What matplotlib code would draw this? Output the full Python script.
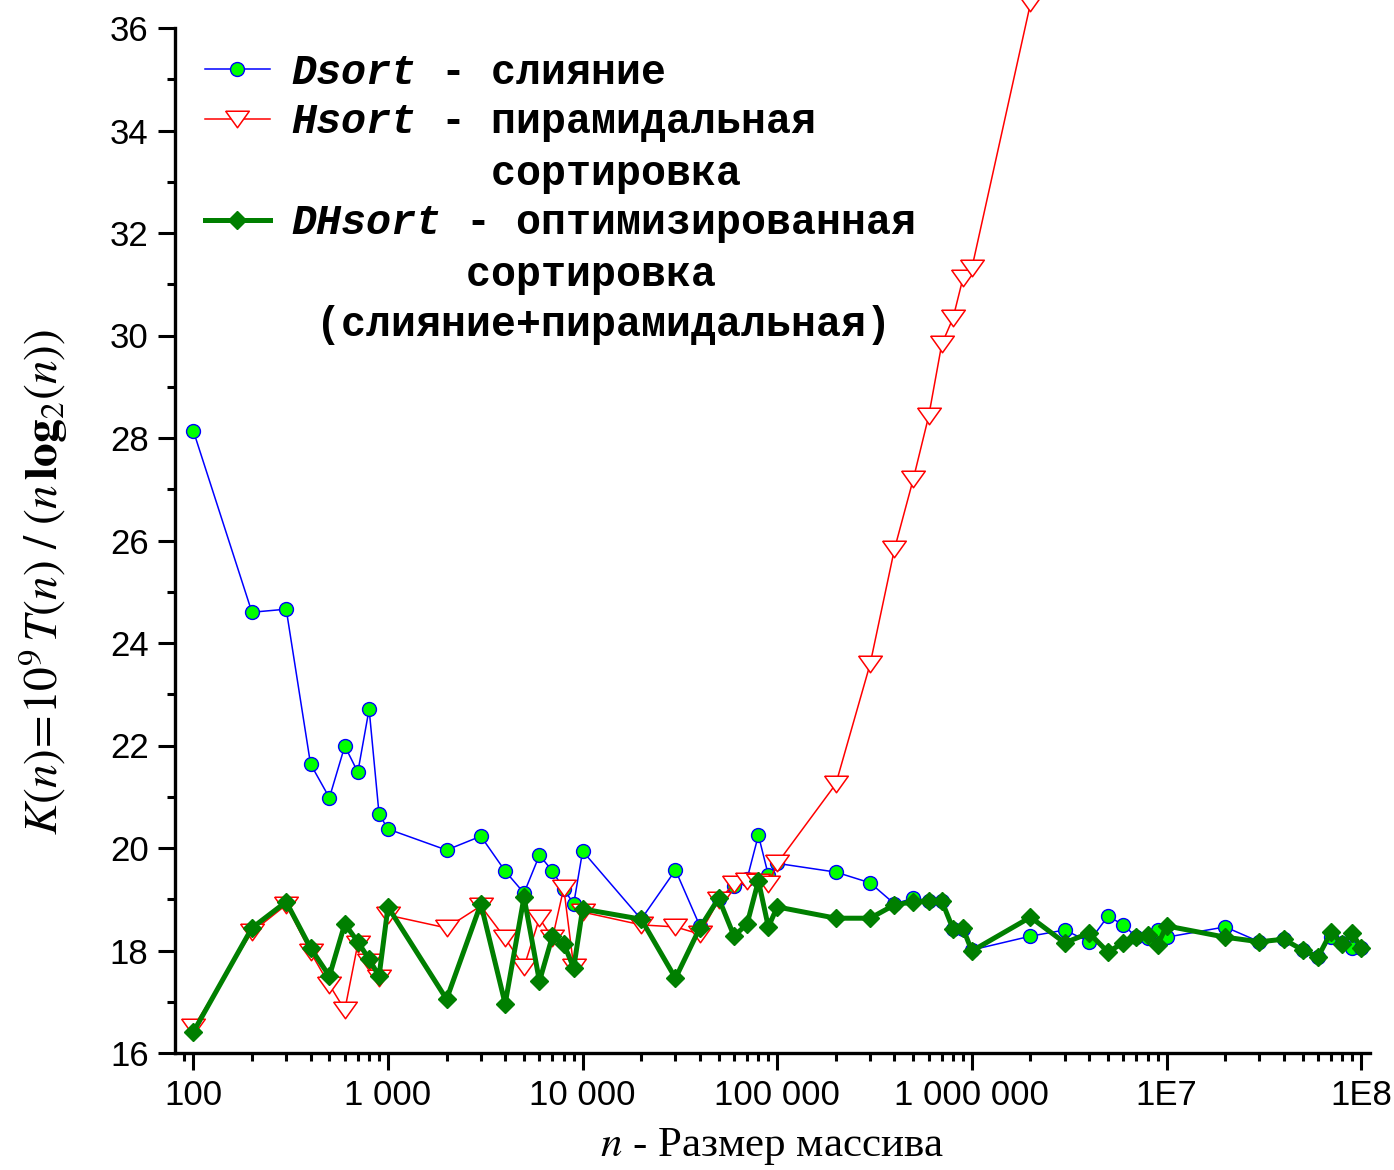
import matplotlib
matplotlib.use("Agg")
import matplotlib.pyplot as plt
from matplotlib.lines import Line2D
from matplotlib.font_manager import FontProperties
from matplotlib.ticker import FixedLocator, FixedFormatter, MultipleLocator, LogLocator, NullFormatter

plt.rcParams['mathtext.fontset'] = 'custom'
plt.rcParams['mathtext.it'] = 'Liberation Mono:italic:bold'
plt.rcParams['mathtext.rm'] = 'Liberation Mono:bold'
plt.rcParams['mathtext.bf'] = 'Liberation Mono:bold'

# размеры массивов
n_small = [100, 200, 300, 400, 500, 600, 700, 800, 900,
           1000, 2000, 3000, 4000, 5000, 6000, 7000, 8000, 9000,
           10000, 20000, 30000, 40000, 50000, 60000, 70000, 80000, 90000,
           100000, 200000, 300000, 400000, 500000, 600000, 700000, 800000, 900000,
           1000000]
n_big = [2000000, 3000000, 4000000, 5000000, 6000000, 7000000, 8000000, 9000000,
         10000000, 20000000, 30000000, 40000000, 50000000, 60000000, 70000000,
         80000000, 90000000, 100000000]
n_all = n_small + n_big
n_hsort = n_small + [2000000]

dsort = [28.14, 24.60, 24.66, 21.64, 20.98, 21.99, 21.48, 22.71, 20.66,
         20.37, 19.96, 20.23, 19.55, 19.12, 19.86, 19.55, 19.20, 18.91,
         19.94, 18.61, 19.57, 18.48, 19.00, 19.25, 19.40, 20.25, 19.47,
         19.70, 19.53, 19.32, 18.91, 19.02, 18.97, 18.97, 18.42, 18.42,
         18.01,
         18.28, 18.40, 18.17, 18.67, 18.50, 18.26, 18.24, 18.40,
         18.26, 18.46, 18.17, 18.22, 18.01, 17.88, 18.26,
         18.15, 18.05, 18.05]

hsort = [16.50, 18.36, 18.89, 17.97, 17.33, 16.84, 18.13, 17.78, 17.46,
         18.69, 18.44, 18.87, 18.24, 17.68, 18.63, 18.24, 19.22, 17.68,
         18.75, 18.50, 18.46, 18.32, 18.98, 19.30, 19.36, 19.33, 19.30,
         19.70, 21.25, 23.59, 25.83, 27.20, 28.43, 29.83, 30.34, 31.12,
         31.32,
         36.48]

dhsort = [16.41, 18.44, 18.95, 18.05, 17.50, 18.52, 18.17, 17.83, 17.50,
          18.85, 17.05, 18.91, 16.96, 19.04, 17.40, 18.28, 18.13, 17.66,
          18.81, 18.61, 17.46, 18.44, 19.02, 18.28, 18.52, 19.36, 18.46,
          18.85, 18.63, 18.63, 18.89, 18.95, 18.97, 18.97, 18.42, 18.43,
          17.99,
          18.65, 18.15, 18.34, 17.97, 18.15, 18.26, 18.30, 18.11,
          18.48, 18.26, 18.17, 18.22, 18.01, 17.87, 18.36,
          18.13, 18.34, 18.05]

xtick_values = [1e2, 1e3, 1e4, 1e5, 1e6, 1e7, 1e8]
xtick_labels = ["100", "1 000", "10 000", "100 000", "1 000 000", "1E7", "1E8"]

fig = plt.figure(figsize=(13.94, 11.7), dpi=100)
ax = fig.add_axes([175 / 1394, 117 / 1170, 1195 / 1394, 1025 / 1170])

# треугольник вершиной вниз, приплюснутый
tri = [(-1, 0.7), (1, 0.7), (0, -0.7), (-1, 0.7)]

l1, = ax.plot(n_all, dsort, color='blue', lw=1.1, marker='o', ms=10,
              mfc='#00ff00', mec='blue', mew=1.0, zorder=3)
l2, = ax.plot(n_hsort, hsort, color='red', lw=1.1, marker=tri, ms=17,
              mfc='white', mec='red', mew=1.1, zorder=4, clip_on=False)
l3, = ax.plot(n_all, dhsort, color='#007f00', lw=3.6, marker='D', ms=9.5,
              mfc='#007f00', mec='#007f00', zorder=5)

ax.set_xscale('log')
ax.set_xlim(80.5, 1.11e8)
ax.set_ylim(16, 36)

ax.xaxis.set_major_locator(FixedLocator(xtick_values))
ax.xaxis.set_major_formatter(FixedFormatter(xtick_labels))
ax.xaxis.set_minor_locator(LogLocator(base=10, subs=range(2, 10), numticks=20))
ax.xaxis.set_minor_formatter(NullFormatter())
ax.yaxis.set_major_locator(MultipleLocator(2))
ax.yaxis.set_minor_locator(MultipleLocator(1))

for s in ['top', 'right']:
    ax.spines[s].set_visible(False)
for s in ['left', 'bottom']:
    ax.spines[s].set_linewidth(2.4)

ax.tick_params(which='major', direction='out', length=12, width=2.2, pad=7,
               labelsize=25)
ax.tick_params(which='minor', direction='out', length=5.5, width=2.2)
for lab in ax.get_xticklabels() + ax.get_yticklabels():
    lab.set_family('Liberation Sans')

ax.set_xlabel(r'$n$ - Размер массива', family='Liberation Serif',
              math_fontfamily='stix', fontsize=31, labelpad=10)
ax.set_ylabel(r'$K(n)\!=\!10^9\,T(n)\ /\ (n\,\mathbf{log}_2(n))$',
              math_fontfamily='stix', fontsize=34)
ax.yaxis.set_label_coords(-0.088, 0.46)

empty = Line2D([], [], linestyle='none', marker='none')
handles = [l1, l2, empty, l3, empty, empty]
labels = [r'$\mathit{Dsort}$ - слияние',
          r'$\mathit{Hsort}$ - пирамидальная',
          '        сортировка',
          r'$\mathit{DHsort}$ - оптимизированная',
          '       сортировка',
          ' (слияние+пирамидальная)']
prop = FontProperties(family='Liberation Mono', weight='bold', size=30,
                      math_fontfamily='custom')
leg = ax.legend(handles, labels, prop=prop, loc='upper left',
                bbox_to_anchor=(0.025, 0.976), frameon=False, borderpad=0,
                borderaxespad=0, handlelength=1.56, handletextpad=0.5,
                labelspacing=0.23, markerscale=1.0)

fig.savefig('out.png', dpi=100)
